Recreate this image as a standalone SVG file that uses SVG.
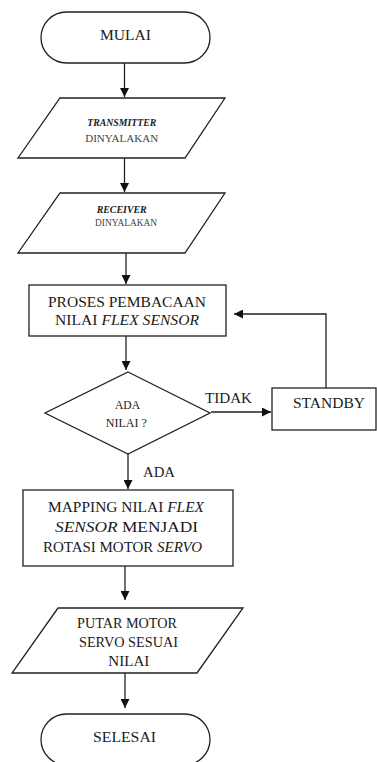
<svg xmlns="http://www.w3.org/2000/svg" width="377" height="762" viewBox="0 0 377 762">
<style>
.s{fill:#fff;stroke:#222;stroke-width:1.3}
.c{fill:none;stroke:#222;stroke-width:1.3}
text{font-family:'Liberation Serif','Times New Roman',serif;fill:#1a1a1a}
.m{text-anchor:middle}
.t15{font-size:15.5px}
.t14{font-size:14px}
.sm{font-size:10px}
.g{fill:#444}
</style>
<defs>
<marker id="ah" markerUnits="userSpaceOnUse" markerWidth="10" markerHeight="9" refX="9" refY="4.5" orient="auto">
<path d="M0,0 L9,4.5 L0,9 z" fill="#111"/>
</marker>
</defs>
<rect width="377" height="762" fill="#fff"/>
<g id="connectors">
<path class="c" d="M124.5,63 V97" marker-end="url(#ah)"/>
<path class="c" d="M124.5,158 V192" marker-end="url(#ah)"/>
<path class="c" d="M126,253 V284" marker-end="url(#ah)"/>
<path class="c" d="M126,336 V370" marker-end="url(#ah)"/>
<path class="c" d="M128,454 V489" marker-end="url(#ah)"/>
<path class="c" d="M125,566 V600" marker-end="url(#ah)"/>
<path class="c" d="M125,673 V708" marker-end="url(#ah)"/>
<path class="c" d="M211,412 H271" marker-end="url(#ah)"/>
<path class="c" d="M326,388 V314 H234" marker-end="url(#ah)"/>
<text class="t15" x="205" y="403" textLength="47" lengthAdjust="spacingAndGlyphs">TIDAK</text>
<text class="t15" x="143" y="477" textLength="32" lengthAdjust="spacingAndGlyphs">ADA</text>
</g>
<g id="mulai">
<rect class="s" x="41" y="12" width="169" height="51" rx="25.5"/>
<text class="t15 m" x="125.5" y="40" textLength="51" lengthAdjust="spacingAndGlyphs">MULAI</text>
</g>
<g id="transmitter">
<polygon class="s" points="60,98 225,98 185,158 18,158"/>
<text class="sm m" x="121.7" y="126" font-style="italic" font-weight="bold" textLength="69" lengthAdjust="spacingAndGlyphs">TRANSMITTER</text>
<text class="sm m g" x="121.7" y="142" textLength="73" lengthAdjust="spacingAndGlyphs">DINYALAKAN</text>
</g>
<g id="receiver">
<polygon class="s" points="60,193 225,193 185,253 18,253"/>
<text class="sm m" x="121.7" y="213" font-style="italic" font-weight="bold" textLength="50" lengthAdjust="spacingAndGlyphs">RECEIVER</text>
<text class="sm m g" x="126" y="226" textLength="62" lengthAdjust="spacingAndGlyphs">DINYALAKAN</text>
</g>
<g id="proses">
<rect class="s" x="29" y="285" width="197" height="51"/>
<text class="t15 m" x="127" y="307" textLength="158" lengthAdjust="spacingAndGlyphs">PROSES PEMBACAAN</text>
<text class="t15 m" x="127" y="325" textLength="144" lengthAdjust="spacingAndGlyphs">NILAI <tspan font-style="italic">FLEX SENSOR</tspan></text>
</g>
<g id="keputusan">
<polygon class="s" points="128,372 210,413 128,454 45,413"/>
<text class="m" font-size="11.5" x="127.5" y="409" textLength="25" lengthAdjust="spacingAndGlyphs">ADA</text>
<text class="m" font-size="11.5" x="126.3" y="427" textLength="41" lengthAdjust="spacingAndGlyphs">NILAI ?</text>
</g>
<g id="standby">
<rect class="s" x="272" y="388" width="104" height="42"/>
<text class="t15 m" x="329" y="408" textLength="72" lengthAdjust="spacingAndGlyphs">STANDBY</text>
</g>
<g id="mapping">
<rect class="s" x="23" y="490" width="210" height="76"/>
<text class="t15 m" x="126" y="512" textLength="156" lengthAdjust="spacingAndGlyphs">MAPPING NILAI <tspan font-style="italic">FLEX</tspan></text>
<text class="t15 m" x="126.5" y="532" textLength="143" lengthAdjust="spacingAndGlyphs"><tspan font-style="italic">SENSOR</tspan> MENJADI</text>
<text class="t15 m" x="122.5" y="552" textLength="159" lengthAdjust="spacingAndGlyphs">ROTASI MOTOR <tspan font-style="italic">SERVO</tspan></text>
</g>
<g id="putar">
<polygon class="s" points="58,608 243,608 197,673 12,673"/>
<text class="t14 m" x="127" y="628" textLength="100" lengthAdjust="spacingAndGlyphs">PUTAR MOTOR</text>
<text class="t14 m" x="128.5" y="647" textLength="99" lengthAdjust="spacingAndGlyphs">SERVO SESUAI</text>
<text class="t14 m" x="128.8" y="666" textLength="41" lengthAdjust="spacingAndGlyphs">NILAI</text>
</g>
<g id="selesai">
<rect class="s" x="41" y="714" width="169" height="51" rx="25.5"/>
<text class="t15 m" x="124.5" y="742" textLength="63" lengthAdjust="spacingAndGlyphs">SELESAI</text>
</g>
</svg>
